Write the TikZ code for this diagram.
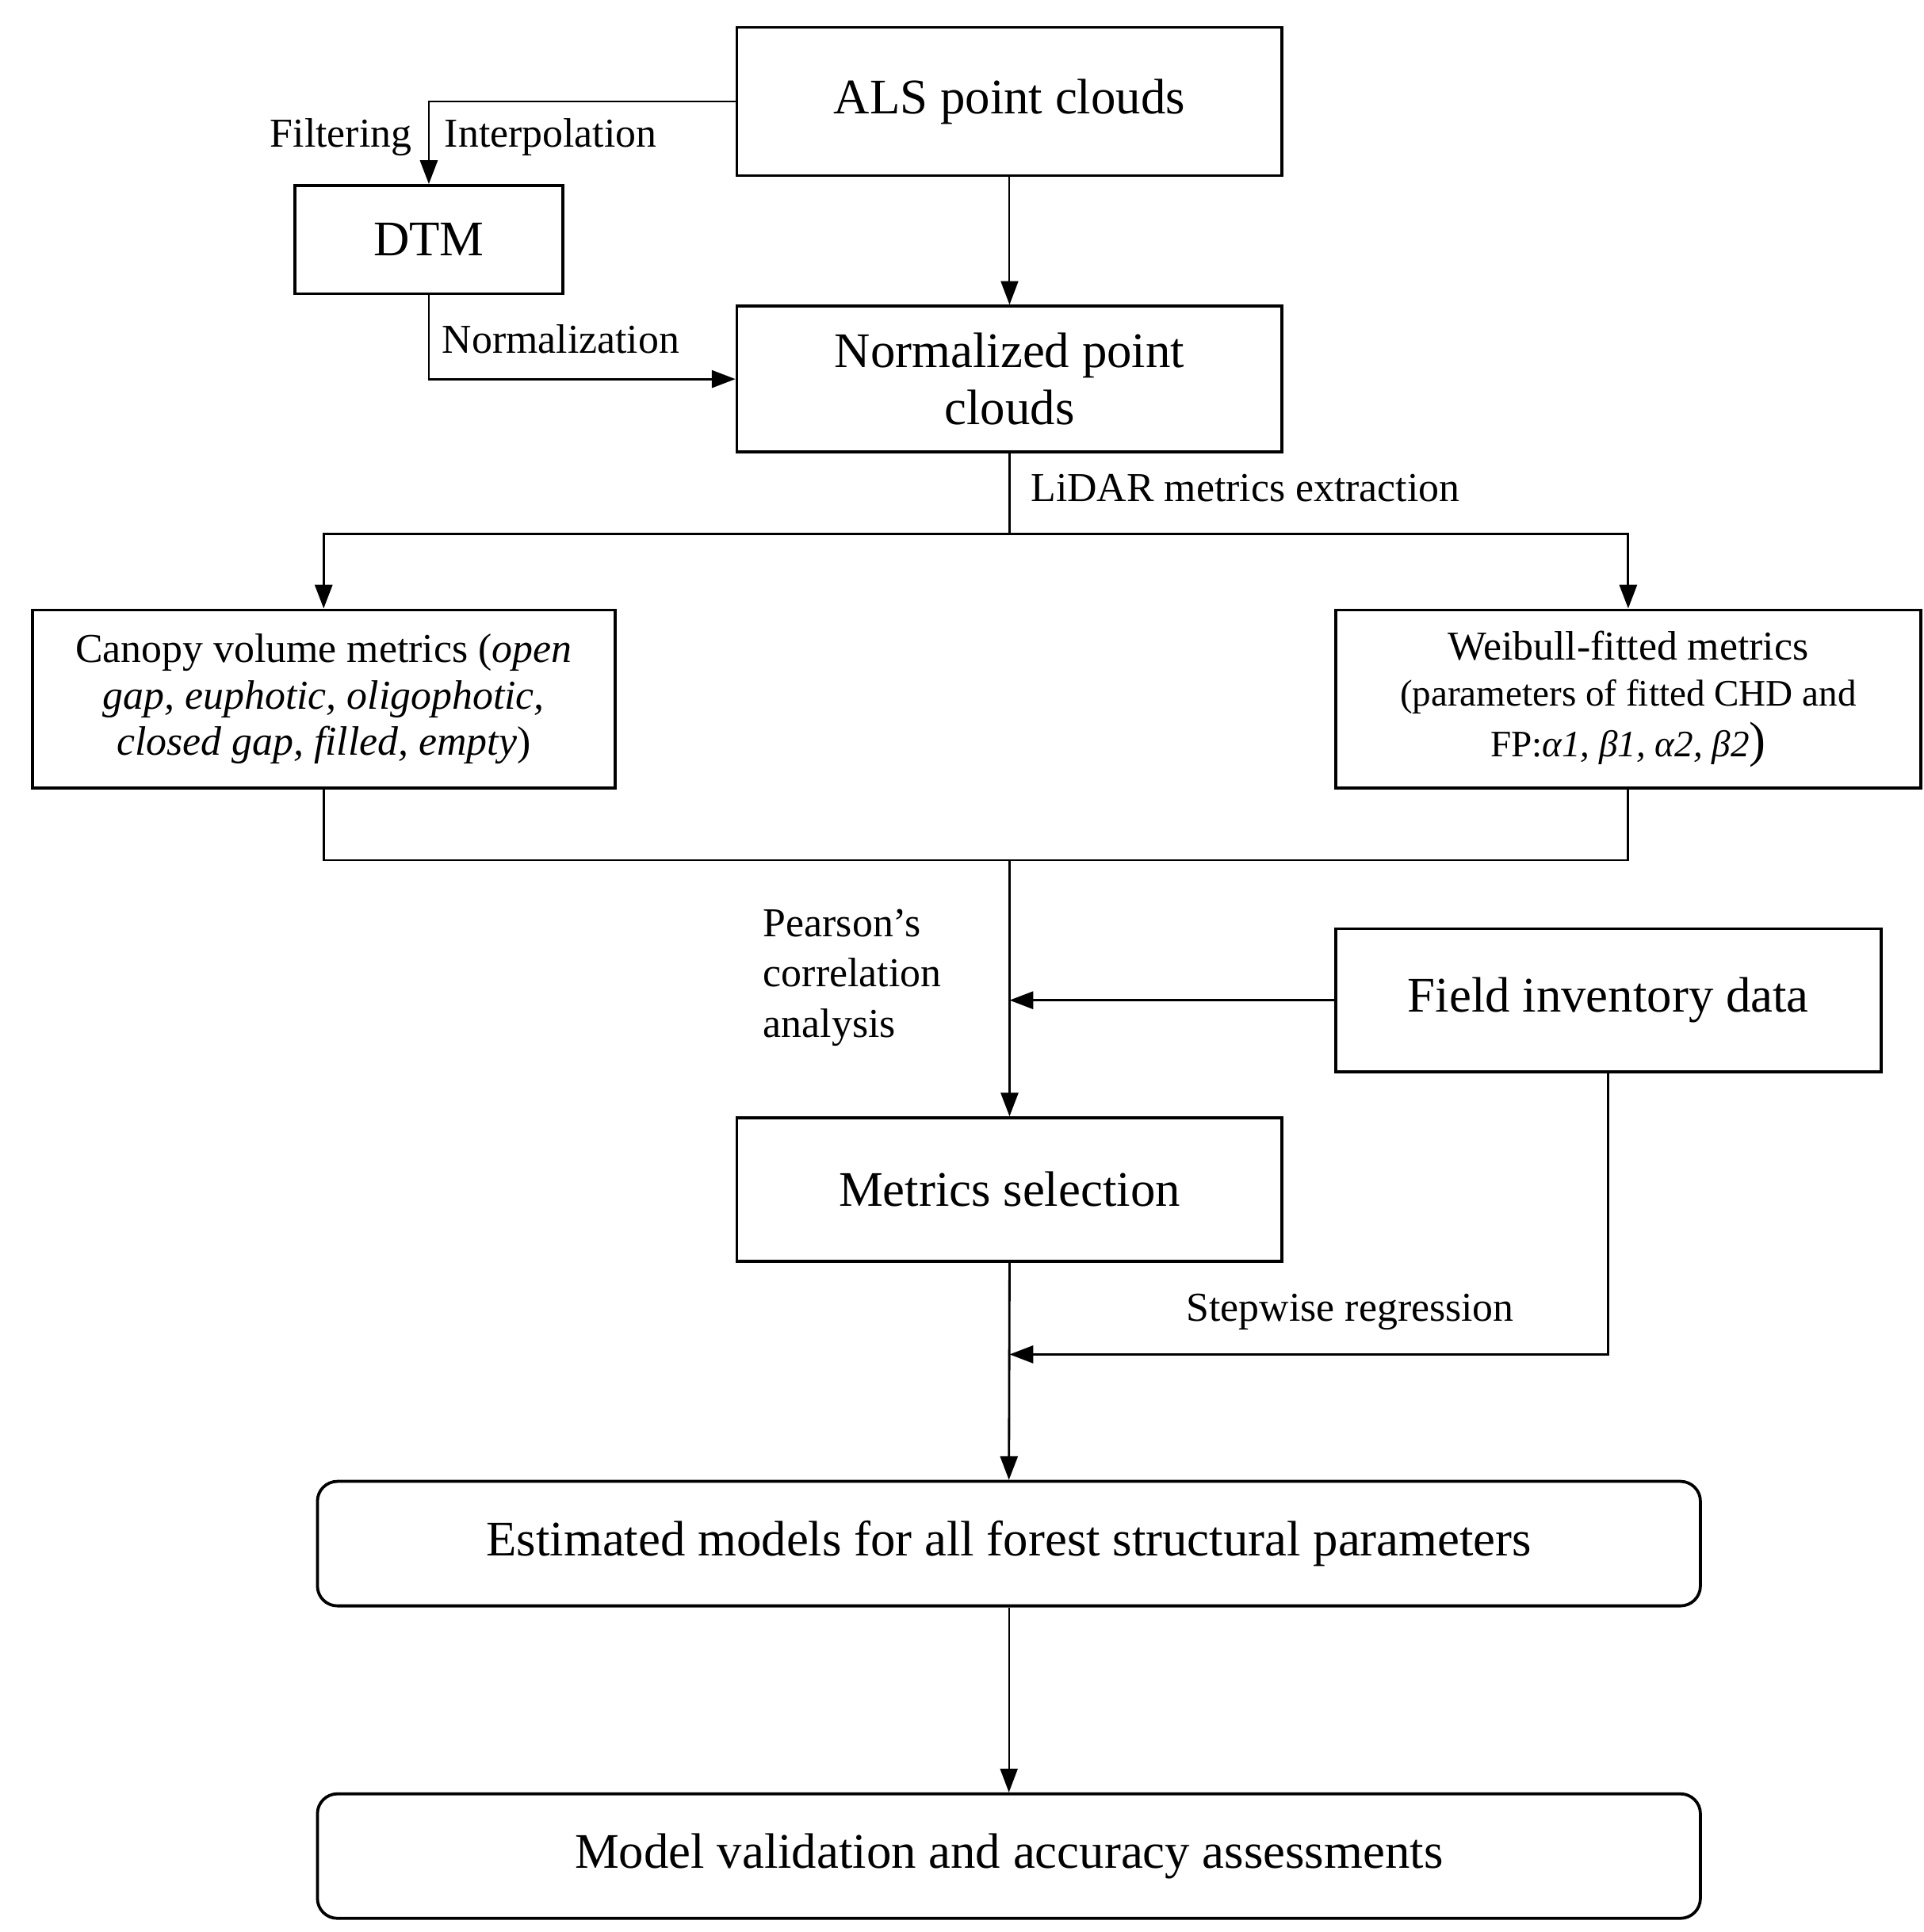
\documentclass[tikz,border=0pt]{standalone}
\usepackage{fontspec}
\setmainfont{Liberation Serif}
\usetikzlibrary{arrows.meta}
\begin{document}
\begin{tikzpicture}[x=1pt,y=-1pt,
  box/.style={draw, line width=2.4pt, inner sep=0pt, align=center, font=\fontsize{40}{46}\selectfont},
  rbox/.style={box, rounded corners=16pt},
  lbl/.style={inner sep=0pt, font=\fontsize{33}{40.5}\selectfont},
  arr/.style={line width=1.8pt, -{Triangle[length=19pt,width=14pt]}},
  thinarr/.style={line width=1.3pt, -{Triangle[length=19pt,width=14pt]}},
  ln/.style={line width=1.8pt}]
\useasboundingbox (0,0) rectangle (1545,1552);
% boxes
\node[box, minimum width=438pt, minimum height=119pt] (als) at (811,81.5) {ALS point clouds};
\node[box, minimum width=215pt, minimum height=87pt] (dtm) at (344.5,192.5) {DTM};
\node[box, minimum width=438pt, minimum height=117pt] (norm) at (811,304.5) {Normalized point\\clouds};
\node[box, minimum width=468pt, minimum height=143pt, font=\fontsize{33}{37}\selectfont] (canopy) at (260,561.5)
  {Canopy volume metrics (\textit{open}\\\textit{gap, euphotic, oligophotic,}\\\textit{closed gap, filled, empty})};
\node[box, minimum width=470pt, minimum height=143pt, font=\fontsize{30}{37}\selectfont] (weib) at (1308,561.5)
  {{\fontsize{33}{37}\selectfont Weibull-fitted metrics}\\(parameters of fitted CHD and\\[4pt]FP:\textit{α1, β1, α2, β2}{\fontsize{40}{46}\selectfont)}};
\node[box, minimum width=438pt, minimum height=115pt] (field) at (1292,803.5) {Field inventory data};
\node[box, minimum width=438pt, minimum height=115pt] (msel) at (811,955.5) {Metrics selection};
\node[rbox, minimum width=1111pt, minimum height=100pt] (est) at (810.5,1240) {Estimated models for all forest structural parameters};
\node[rbox, minimum width=1111pt, minimum height=100pt] (model) at (810.5,1491) {Model validation and accuracy assessments};
% labels
\node[lbl, anchor=base east] (lfilt) at (331,118) {Filtering};
\node[lbl, anchor=base west] (linterp) at (357,118) {Interpolation};
\node[lbl, anchor=base west] (lnorm) at (355,284) {Normalization};
\node[lbl, anchor=base west] (llidar) at (828,403) {LiDAR metrics extraction};
\node[lbl, anchor=north west, align=left] (lpear) at (613,730) {Pearson’s\\correlation\\analysis};
\node[lbl, anchor=base west] (lstep) at (953,1061) {Stepwise regression};
% junctions
\coordinate (split) at (811,429);
\coordinate (merge) at (811,691);
\coordinate (join) at (811,1088);
% connectors
\draw[arr] (als.west) -| (dtm.north);
\draw[thinarr] (als.south) -- (norm.north);
\draw[arr] (dtm.south) |- (norm.west);
\draw[ln] (norm.south) -- (split);
\draw[arr] (split) -| (canopy.north);
\draw[arr] (split) -| (weib.north);
\draw[ln] (canopy.south) |- (merge);
\draw[ln] (weib.south) |- (merge);
\draw[arr] (merge) -- (msel.north);
\draw[arr] (field.west) -- (field.west -| msel.north);
\draw[arr] (msel.south) -- (est.north);
\draw[arr] (field.south) |- (join);
\draw[thinarr] (est.south) -- (model.north);
\end{tikzpicture}
\end{document}
